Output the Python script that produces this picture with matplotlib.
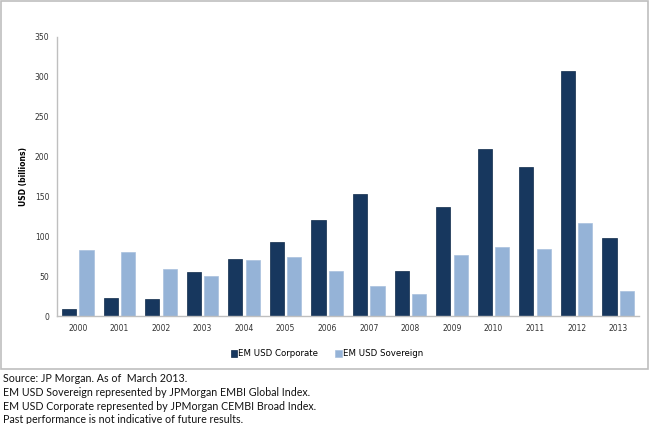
import numpy as np
import matplotlib.pyplot as plt
from matplotlib.patches import Rectangle

# Data (USD billions)
years = ['2000', '2001', '2002', '2003', '2004', '2005', '2006',
         '2007', '2008', '2009', '2010', '2011', '2012', '2013']
corporate = [9, 23, 21, 55, 71, 93, 120, 153, 57, 137, 210, 187, 307, 98]
sovereign = [83, 80, 59, 50, 70, 74, 56, 38, 28, 77, 87, 84, 117, 31]
y_ticks = [0, 50, 100, 150, 200, 250, 300, 350]

footer = ["Source: JP Morgan. As of  March 2013.",
          "EM USD Sovereign represented by JPMorgan EMBI Global Index.",
          "EM USD Corporate represented by JPMorgan CEMBI Broad Index.",
          "Past performance is not indicative of future results."]

dark = '#17375E'
light = '#95B3D7'

fig = plt.figure(figsize=(6.5, 4.24), dpi=100)

# outer gray frame around the chart area
fig.patches.append(Rectangle((1 / 650, 1 - 369 / 424), 647 / 650, 368 / 424,
                             transform=fig.transFigure, fill=False,
                             edgecolor='#bfbfbf', linewidth=1.2))

ax = fig.add_axes([57 / 650, 1 - 316 / 424, 582 / 650, 279 / 424])

x = np.arange(len(years))
w = 0.34
ax.bar(x - w / 2 - 0.04, corporate, w, color=dark, edgecolor='#0f2a4a',
       linewidth=0.5, label='EM USD Corporate')
ax.bar(x + w / 2 + 0.04, sovereign, w, color=light, edgecolor='#a9c1de',
       linewidth=0.5, label='EM USD Sovereign')

ax.set_xlim(-0.5, len(years) - 0.5)
ax.set_ylim(0, 350)
ax.set_yticks(y_ticks)
ax.set_xticks(x)
ax.set_xticklabels(years)
ax.tick_params(length=0, labelsize=5.5, colors='#333333', pad=6)
ax.tick_params(axis='y', pad=5.5)

for s in ['top', 'right']:
    ax.spines[s].set_visible(False)
for s in ['left', 'bottom']:
    ax.spines[s].set_color('#bfbfbf')
    ax.spines[s].set_linewidth(1.0)

ax.set_ylabel('USD (billions)', fontsize=5.5, fontweight='bold', labelpad=5)

fig.legend(loc='center', bbox_to_anchor=(327 / 650, 1 - 354 / 424), ncol=2,
           frameon=False, fontsize=6.2, handlelength=0.7, handleheight=0.7,
           handletextpad=0.15, columnspacing=2.0)

for i, line in enumerate(footer):
    fig.text(3 / 650, 1 - (379 + i * 13.5) / 424, line, fontsize=7.65,
             family='Lato', va='center', ha='left', color='#111111')

fig.savefig('out.png', dpi=100)
